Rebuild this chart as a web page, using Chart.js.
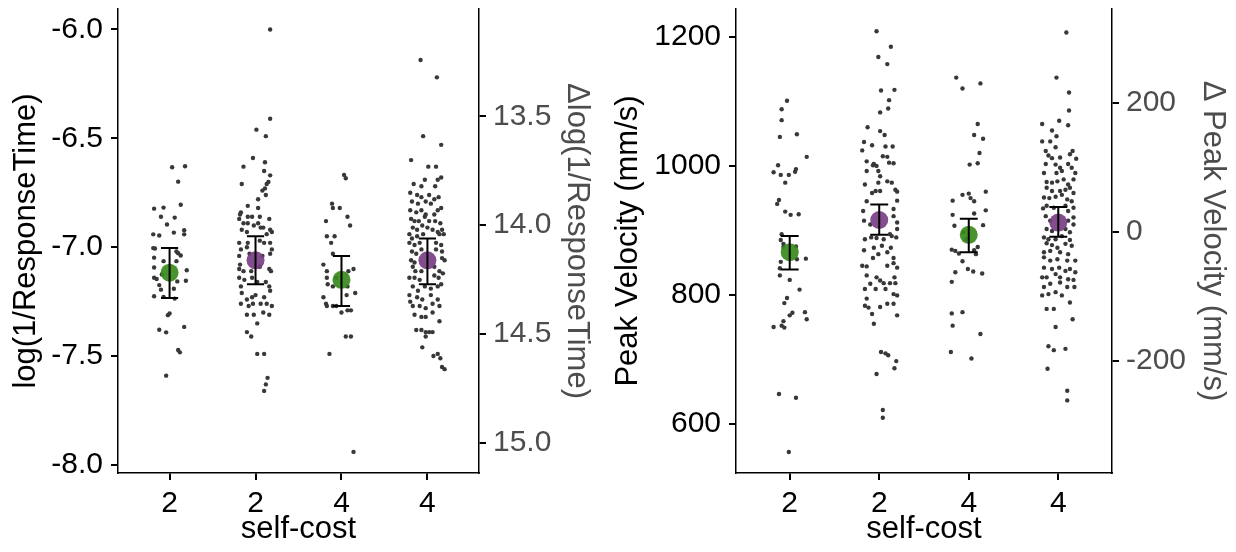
<!DOCTYPE html>
<html>
<head>
<meta charset="utf-8">
<script src="https://cdn.jsdelivr.net/npm/chart.js"></script>
<style>
html, body { margin: 0; padding: 0; background: #fff; }
#wrap { position: relative; width: 1236px; height: 552px; }
#c1 { position: absolute; left: 0; top: 0; }
#c2 { position: absolute; left: 600px; top: 0; }
</style>
</head>
<body>
<div id="wrap">
  <canvas id="c1" width="600" height="552"></canvas>
  <canvas id="c2" width="636" height="552"></canvas>
</div>
<script>
// ---------------------------------------------------------------------------
// DATA
// ---------------------------------------------------------------------------
var catPos = [1, 2, 3, 4];
var catLabels = ['2', '2', '4', '4'];

// left panel: log(1/ResponseTime), points as [jitter, value]
var rt1 = [[.03,-6.633],[.18,-6.628],[.10,-6.699],[-.18,-6.823],[-.07,-6.818],[.13,-6.805],[-.10,-6.860],[.06,-6.864],[-.03,-6.896],[-.19,-6.941],[-.12,-6.946],[.05,-6.933],[.17,-6.922],[.17,-6.941],[-.19,-7.004],[-.17,-7.006],[.08,-7.020],[.10,-7.028],[-.18,-7.048],[.13,-7.038],[-.18,-7.093],[.20,-7.106],[-.18,-7.140],[-.15,-7.146],[.19,-7.154],[-.12,-7.174],[-.10,-7.195],[.05,-7.191],[-.18,-7.225],[-.07,-7.228],[.06,-7.236],[.00,-7.304],[-.02,-7.312],[-.12,-7.379],[-.04,-7.391],[.17,-7.366],[.10,-7.472],[.12,-7.483],[-.04,-7.590],[-.07,-7.064],[.08,-7.064],[-.09,-7.125],[.09,-7.157]];
var rt2 = [[.17,-6.00],[.17,-6.41],[.01,-6.46],[.12,-6.49],[-.03,-6.59],[-.14,-6.63],[.11,-6.61],[.10,-6.65],[.17,-6.67],[.15,-6.70],[.13,-6.71],[-.16,-6.71],[.11,-6.73],[.08,-6.74],[.12,-6.76],[.03,-6.78],[-.09,-6.81],[.03,-6.82],[-.17,-6.84],[-.18,-6.85],[-.09,-6.86],[-.04,-6.86],[.05,-6.86],[.16,-6.87],[-.19,-6.87],[-.14,-6.89],[-.09,-6.89],[-.02,-6.90],[.03,-6.89],[.06,-6.91],[.09,-6.91],[.17,-6.92],[.19,-6.93],[-.16,-6.92],[-.10,-6.93],[.13,-6.94],[-.09,-6.98],[-.19,-6.98],[.05,-6.97],[.10,-6.98],[.17,-6.98],[-.17,-7.01],[-.19,-7.04],[.19,-7.01],[.17,-7.03],[-.10,-7.00],[-.18,-7.08],[-.19,-7.10],[.16,-7.10],[.18,-7.11],[-.14,-7.11],[-.19,-7.14],[-.13,-7.15],[-.04,-7.14],[.12,-7.16],[-.17,-7.18],[.16,-7.18],[-.16,-7.21],[-.10,-7.24],[-.04,-7.23],[.00,-7.22],[.10,-7.23],[.17,-7.20],[-.17,-7.26],[-.08,-7.27],[-.03,-7.26],[.06,-7.26],[.13,-7.26],[.19,-7.27],[-.02,-7.31],[-.10,-7.31],[.09,-7.30],[.16,-7.31],[.02,-7.35],[-.10,-7.39],[-.05,-7.41],[.02,-7.49],[.10,-7.49],[.14,-7.60],[.12,-7.63],[.10,-7.66],[-.07,-7.03],[.08,-7.04],[.05,-7.09],[-.05,-7.11],[.02,-7.16]];
var rt3 = [[.03,-6.668],[.05,-6.683],[-.11,-6.80],[-.10,-6.82],[-.02,-6.82],[-.18,-6.88],[.07,-6.86],[.10,-6.90],[-.17,-6.95],[-.08,-6.95],[-.12,-6.98],[-.10,-7.03],[-.21,-7.08],[-.17,-7.11],[.14,-7.10],[-.17,-7.14],[-.16,-7.17],[-.10,-7.18],[.07,-7.18],[.06,-7.22],[.16,-7.21],[-.21,-7.23],[-.18,-7.26],[-.17,-7.27],[-.10,-7.27],[-.06,-7.27],[.00,-7.30],[.07,-7.29],[.11,-7.29],[.05,-7.41],[.11,-7.41],[-.14,-7.49],[.14,-7.94],[-.06,-7.14],[.08,-7.11]];
var rt4 = [[-.08,-6.14],[.11,-6.22],[-.05,-6.49],[.16,-6.53],[-.19,-6.60],[.01,-6.63],[.10,-6.63],[.16,-6.68],[.12,-6.69],[-.03,-6.69],
    [-.16,-6.71],[-.07,-6.72],[.09,-6.72],[-.20,-6.75],[-.12,-6.76],[-.07,-6.77],[.02,-6.76],[.08,-6.78],[.13,-6.77],[-.18,-6.79],[-.11,-6.80],[-.02,-6.79],[.04,-6.80],[.16,-6.82],[-.20,-6.83],[-.13,-6.84],[-.07,-6.83],[-.02,-6.85],[.08,-6.85],[.12,-6.83],
    [-.19,-6.87],[-.15,-6.88],[-.10,-6.88],[-.03,-6.86],[.02,-6.88],[.09,-6.88],[.15,-6.89],[.17,-6.92],[-.17,-6.91],[-.12,-6.92],[-.06,-6.90],[.00,-6.91],[.06,-6.92],[.12,-6.93],[-.21,-6.94],[-.18,-6.96],[-.12,-6.95],[-.05,-6.94],[.14,-6.94],[.19,-6.94],
    [-.21,-6.98],[-.15,-6.99],[-.09,-6.98],[.10,-6.98],[.16,-6.99],[-.18,-7.02],[-.13,-7.03],[-.07,-7.01],[.10,-7.01],[.17,-7.02],[-.19,-7.06],[-.15,-7.07],[.17,-7.05],[.20,-7.06],[-.17,-7.09],[-.14,-7.11],[-.07,-7.11],[.08,-7.09],[.14,-7.11],
    [-.21,-7.14],[-.15,-7.14],[-.09,-7.15],[.08,-7.13],[.13,-7.14],[.18,-7.12],[-.17,-7.18],[-.11,-7.20],[-.03,-7.18],[.04,-7.19],[.12,-7.18],[.16,-7.17],[-.21,-7.22],[-.12,-7.23],[-.06,-7.24],[.04,-7.22],[.12,-7.24],
    [-.17,-7.27],[-.09,-7.27],[-.02,-7.28],[.06,-7.26],[.14,-7.27],[-.20,-7.25],[-.15,-7.31],[-.07,-7.32],[-.02,-7.32],[.06,-7.30],[.14,-7.34],[-.13,-7.38],[-.07,-7.38],[-.02,-7.39],[.02,-7.39],[.06,-7.39],[-.02,-7.41],[-.06,-7.46],[.12,-7.49],[.15,-7.51],[.07,-7.50],[.17,-7.55],[.20,-7.56]];
var rtMean = [-7.117, -7.06, -7.15, -7.06];
var rtLow  = [-7.233, -7.17, -7.27, -7.17];
var rtHigh = [-7.004, -6.95, -7.04, -6.96];
var rtTicks = [-8.0, -7.5, -7.0, -6.5, -6.0];
var rtTicks2 = [13.5, 14.0, 14.5, 15.0];

// right panel: Peak Velocity (mm/s), points as [jitter, value]
var pv1 = [[-.03,1101],[-.09,1088],[-.09,1071],[-.11,1045],[.08,1049],[.19,1014],[-.13,1001],[-.18,990],[-.10,986],[-.05,974],[-.01,986],[.06,991],[.07,995],[-.12,947],[-.14,941],[-.05,929],[.01,924],[.10,925],[-.09,894],[-.10,885],[.07,875],[.18,856],[-.11,841],[-.11,830],[.00,823],[.11,808],[-.03,795],[-.06,787],[.03,772],[.00,768],[.17,773],[.19,762],[-.07,759],[-.09,752],[-.06,749],[-.18,750],[-.12,646],[.07,640],[-.01,556],[-.07,874],[.08,855],[-.10,851],[-.07,879]];
var pv2 = [[-.03,1209],[.13,1185],[-.01,1169],[.09,1158],[.02,1117],[.17,1118],[.11,1102],[.10,1089],[.01,1083],
    [-.13,1060],[.01,1054],[.06,1048],[-.17,1037],[-.08,1032],[.07,1030],[.15,1030],[-.19,1024],[-.14,1007],[-.06,1003],[-.03,1000],[.04,1015],[.09,1014],[-.07,1001],[-.01,992],[-.14,992],[.11,1005],[.16,1004],
    [.01,984],[-.01,974],[.09,976],[.14,974],[.18,963],[.20,960],[-.16,971],[-.08,958],[-.04,961],[.01,961],[.20,946],[-.14,945],[.16,933],[-.18,930],[-.17,915],[-.10,909],[.16,922],[.20,912],[.20,902],
    [.14,891],[.19,889],[-.16,886],[-.09,889],[-.03,888],[.05,886],[.12,894],[-.06,873],[.03,876],[.13,873],[-.17,869],[-.07,857],[-.01,863],[.09,866],[.16,857],[-.19,845],[-.14,844],[.16,849],[.09,845],[.20,842],
    [-.14,830],[-.03,827],[.01,822],[.05,818],[.12,818],[.17,827],[.18,818],[-.10,817],[-.16,809],[-.04,809],[.07,809],[.16,801],[.20,799],[-.14,794],[-.16,783],[-.12,780],[.01,781],[.09,786],[.16,786],[-.08,770],[-.06,755],[.20,768],
    [.02,711],[.07,709],[.10,706],[.19,697],[.17,686],[-.03,677],[.04,621],[.04,609]];
var pv3 = [[-.14,1137],[-.07,1120],[.13,1128],[.10,1065],[.06,1048],[.16,1042],[.12,1020],[.01,1002],[.10,1004],[-.18,946],[.00,957],[.02,950],[-.07,955],[.19,960],[.06,945],[.19,931],[-.18,924],[.06,926],[.16,908],[-.16,907],[-.06,897],[-.03,886],[.10,874],[.08,863],[.06,869],[-.19,870],[-.15,868],[-.11,864],[-.07,852],[-.01,840],[.05,836],[.15,833],[-.15,835],[-.19,820],[-.19,771],[-.07,773],[-.18,752],[.13,739],[-.20,711],[.03,701]];
var pv4 = [[.09,1207],[-.02,1137],[.12,1114],[.12,1086],[.01,1070],
    [-.18,1065],[.11,1063],[-.07,1055],[-.02,1046],[-.18,1038],[-.09,1038],[-.03,1029],[-.14,1023],[.16,1023],[-.11,1016],[-.07,1012],[.02,1013],[.20,1011],[.13,1018],[-.14,1003],[-.03,1002],[.02,997],[.11,1003],[.15,997],
    [-.02,989],[.04,992],[-.16,989],[.19,989],[-.13,975],[-.07,974],[-.01,976],[.06,979],[.11,971],[.17,979],[-.13,966],[-.07,961],[.02,961],[.08,963],[.13,966],[.17,958],[-.16,951],[-.10,950],[-.03,952],[.04,955],[.10,948],[.15,945],
    [.17,935],[-.17,934],[-.13,938],[-.05,935],[.08,938],[.11,930],[.17,920],[-.14,922],[-.09,915],[.11,915],[.17,909],[-.13,902],[-.07,899],[.08,902],[.13,897],[-.16,889],[-.11,886],[-.03,886],[.04,891],[.13,885],
    [-.13,880],[-.07,877],[-.01,873],[.08,879],[.15,876],[-.16,866],[-.09,868],[.02,866],[.11,863],[-.16,858],[-.09,853],[-.01,855],[.10,853],[.19,853],[-.16,842],[-.07,840],[.01,842],[.08,837],[.13,840],[.19,835],
    [-.18,827],[-.13,827],[-.03,832],[.02,827],[.11,824],[.17,823],[-.16,812],[-.09,817],[.02,819],[.10,812],[.18,812],[-.18,799],[-.11,801],[-.03,804],[.04,799],[-.13,778],[-.05,778],[.13,788],[.16,762],[-.03,750],
    [-.11,720],[-.05,714],[.08,716],[-.12,685],[.10,651],[.10,636]];
var pvMean = [866, 916, 893, 912];
var pvLow  = [839, 893, 866, 890];
var pvHigh = [891, 940, 918, 936];
var pvTicks = [600, 800, 1000, 1200];
var pvTicks2 = [-200, 0, 200];

var meanColors = ['rgba(58,138,28,0.92)', 'rgba(122,62,132,0.92)', 'rgba(58,138,28,0.92)', 'rgba(122,62,132,0.92)'];

// ---------------------------------------------------------------------------
// HELPERS
// ---------------------------------------------------------------------------
var FONT = "'Liberation Sans', Arial, sans-serif";

function toPoints(groups) {
    var pts = [];
    groups.forEach(function(g, i) {
        g.forEach(function(p) { pts.push({ x: catPos[i] + p[0], y: p[1] }); });
    });
    return pts;
}

// error bars drawn with the chart's own scales
var errBars = {
    id: 'errBars',
    afterDatasetsDraw: function(chart, args, opts) {
        var ctx = chart.ctx, xs = chart.scales.x, ys = chart.scales.y;
        ctx.save();
        ctx.strokeStyle = '#000';
        ctx.lineWidth = 2;
        opts.low.forEach(function(lo, i) {
            var cx = xs.getPixelForValue(catPos[i]);
            var hw = xs.getPixelForValue(catPos[i] + opts.cap) - cx;
            var yl = ys.getPixelForValue(lo), yh = ys.getPixelForValue(opts.high[i]);
            ctx.beginPath();
            ctx.moveTo(cx, yl); ctx.lineTo(cx, yh);
            ctx.moveTo(cx - hw, yl); ctx.lineTo(cx + hw, yl);
            ctx.moveTo(cx - hw, yh); ctx.lineTo(cx + hw, yh);
            ctx.stroke();
        });
        ctx.restore();
    }
};

function makePanel(id, p) {
    var axisGrid = { drawOnChartArea: false, drawTicks: true, tickLength: 7, color: '#000', lineWidth: 2 };
    var axisBorder = { display: true, color: '#000', width: 1.5 };
    new Chart(document.getElementById(id), {
        type: 'scatter',
        data: {
            datasets: [
                { data: catPos.map(function(c, i) { return { x: c, y: p.mean[i] }; }),
                  pointRadius: 9, pointBackgroundColor: meanColors, pointBorderWidth: 0 },
                { data: toPoints(p.groups), pointRadius: 2.2,
                  pointBackgroundColor: '#383838', pointBorderWidth: 0 }
            ]
        },
        options: {
            responsive: false,
            animation: false,
            events: [],
            layout: { padding: { top: p.top, left: 0, right: 0, bottom: 0 } },
            plugins: {
                legend: { display: false },
                tooltip: { enabled: false },
                errBars: { low: p.low, high: p.high, cap: 0.1 }
            },
            scales: {
                x: {
                    type: 'linear', position: 'bottom', min: 0.4, max: 4.6,
                    afterBuildTicks: function(s) { s.ticks = catPos.map(function(v) { return { value: v }; }); },
                    afterFit: function(s) { s.height = 79; s.paddingLeft = 0; s.paddingRight = 0; },
                    ticks: { autoSkip: false, maxRotation: 0, padding: 6, color: '#000',
                             font: { family: FONT, size: 30 },
                             callback: function(v, i) { return catLabels[i]; } },
                    grid: axisGrid, border: axisBorder,
                    title: { display: true, text: 'self-cost', color: '#000',
                             font: { family: FONT, size: 31 }, padding: { top: 0, bottom: 4 } }
                },
                y: {
                    type: 'linear', position: 'left', min: p.yMin, max: p.yMax,
                    afterBuildTicks: function(s) { s.ticks = p.ticks.map(function(v) { return { value: v }; }); },
                    afterFit: function(s) { s.width = p.leftW; s.paddingTop = 0; s.paddingBottom = 0; },
                    ticks: { padding: 8, color: '#000', font: { family: FONT, size: 30 },
                             callback: p.fmt },
                    grid: axisGrid, border: axisBorder,
                    title: { display: true, text: p.title, color: '#000',
                             font: { family: FONT, size: 31 }, padding: { top: p.titlePad, bottom: 0 } }
                },
                y2: {
                    type: 'linear', position: 'right', min: p.y2Min, max: p.y2Max, reverse: p.y2Rev,
                    afterBuildTicks: function(s) { s.ticks = p.ticks2.map(function(v) { return { value: v }; }); },
                    afterFit: function(s) { s.width = p.rightW; s.paddingTop = 0; s.paddingBottom = 0; },
                    ticks: { padding: 7, color: '#4d4d4d', font: { family: FONT, size: 30 },
                             callback: p.fmt2 },
                    grid: axisGrid, border: axisBorder,
                    title: { display: true, text: p.title2, color: '#4d4d4d',
                             font: { family: FONT, size: 31 }, padding: { top: 5, bottom: 0 } }
                }
            }
        },
        plugins: [errBars]
    });
}

// ---------------------------------------------------------------------------
// DRAW BOTH PANELS
// ---------------------------------------------------------------------------
makePanel('c1', {
    groups: [rt1, rt2, rt3, rt4], mean: rtMean, low: rtLow, high: rtHigh,
    yMin: -8.037, yMax: -5.906, ticks: rtTicks, fmt: function(v) { return v.toFixed(1); },
    y2Min: 13.007, y2Max: 15.138, y2Rev: true, ticks2: rtTicks2, fmt2: function(v) { return v.toFixed(1); },
    title: 'log(1/ResponseTime)', title2: '\u0394log(1/ResponseTime)',
    top: 9, leftW: 118, rightW: 121, titlePad: 8
});

makePanel('c2', {
    groups: [pv1, pv2, pv3, pv4], mean: pvMean, low: pvLow, high: pvHigh,
    yMin: 523.3, yMax: 1243.5, ticks: pvTicks, fmt: function(v) { return String(v); },
    y2Min: -374, y2Max: 346.2, y2Rev: false, ticks2: pvTicks2, fmt2: function(v) { return String(v); },
    title: 'Peak Velocity (mm/s)', title2: '\u0394 Peak Velocity (mm/s)',
    top: 7, leftW: 136, rightW: 124, titlePad: 10
});
</script>
</body>
</html>
